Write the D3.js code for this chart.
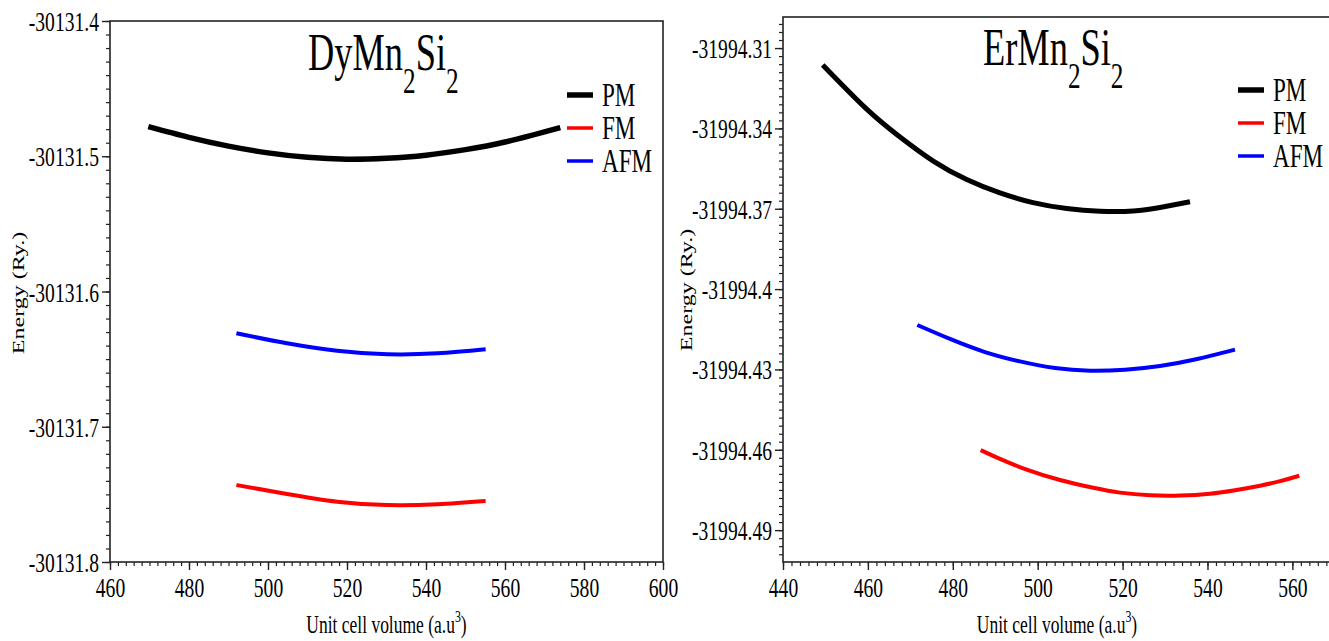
<!DOCTYPE html>
<html>
<head>
<meta charset="utf-8">
<script src="https://cdn.jsdelivr.net/npm/d3@7"></script>
<style>
  html, body { margin: 0; padding: 0; background: #fff; }
  svg { display: block; font-family: "Liberation Serif", "Times New Roman", serif; }
</style>
</head>
<body>
<svg id="chart" width="1329" height="641"></svg>
<script>
// ---- DyMn2Si2 : energy vs unit cell volume ----
const dyVolumePM  = [469.7, 480, 490, 500, 510, 520, 530, 540, 550, 560, 574];
const dyEnergyPM  = [-30131.4781, -30131.4860, -30131.4925, -30131.4975, -30131.5008, -30131.5022,
                     -30131.5015, -30131.4992, -30131.4951, -30131.4895, -30131.4788];
const dyVolumeAFM = [492.0, 504.8, 517.5, 530.2, 542.9, 555.1];
const dyEnergyAFM = [-30131.6309, -30131.6383, -30131.6438, -30131.6464, -30131.6457, -30131.6427];
const dyVolumeFM  = [492.0, 504.8, 517.5, 530.2, 542.9, 555.1];
const dyEnergyFM  = [-30131.7431, -30131.7497, -30131.7554, -30131.7579, -30131.7573, -30131.7549];

const dyVolumeTicks = [460, 480, 500, 520, 540, 560, 580, 600];
const dyVolumeTickLabels = ["460", "480", "500", "520", "540", "560", "580", "600"];
const dyEnergyTicks = [-30131.4, -30131.5, -30131.6, -30131.7, -30131.8];
const dyEnergyTickLabels = ["-30131.4", "-30131.5", "-30131.6", "-30131.7", "-30131.8"];

// ---- ErMn2Si2 : energy vs unit cell volume ----
const erVolumePM  = [449.35, 459.72, 467.56, 475.41, 483.28, 491.12, 498.90, 506.83, 514.68, 522.52, 528.81, 535.88];
const erEnergyPM  = [-31994.3163, -31994.3328, -31994.3432, -31994.3522, -31994.3591, -31994.3641,
                     -31994.3677, -31994.3699, -31994.3709, -31994.3708, -31994.3695, -31994.3674];
const erVolumeAFM = [471.64, 479.34, 487.59, 495.83, 504.08, 512.32, 520.57, 528.81, 537.06, 546.48];
const erEnergyAFM = [-31994.4134, -31994.4186, -31994.4235, -31994.4270, -31994.4295, -31994.4305,
                     -31994.4301, -31994.4287, -31994.4263, -31994.4226];
const erVolumeFM  = [486.58, 491.12, 497.41, 505.26, 513.10, 519.39, 526.46, 533.53, 540.60, 546.49,
                     552.38, 557.09, 561.63];
const erEnergyFM  = [-31994.4601, -31994.4634, -31994.4674, -31994.4713, -31994.4742, -31994.4760,
                     -31994.4770, -31994.4771, -31994.4764, -31994.4751, -31994.4734, -31994.4717, -31994.4697];

const erVolumeTicks = [440, 460, 480, 500, 520, 540, 560];
const erVolumeTickLabels = ["440", "460", "480", "500", "520", "540", "560"];
const erEnergyTicks = [-31994.31, -31994.34, -31994.37, -31994.40, -31994.43, -31994.46, -31994.49];
const erEnergyTickLabels = ["-31994.31", "-31994.34", "-31994.37", "-31994.4", "-31994.43", "-31994.46", "-31994.49"];

const seriesNames  = ["PM", "FM", "AFM"];
const seriesColors = ["#000000", "#ff0000", "#0000ff"];

// ---- drawing ----
const svg = d3.select("#chart");
const SX = 0.7;          // narrow serif lettering
const SERIF = "'Liberation Serif', 'Times New Roman', serif";
const FONT_TICK = 28;

function zip(a, b) { return a.map((v, i) => [v, b[i]]); }

function squeezedText(parent, x, y, str, size, anchor) {
  const g = parent.append("g").attr("transform", `translate(${x},${y})`);
  const t = g.append("text")
    .attr("transform", `scale(${SX},1)`)
    .attr("font-size", size)
    .attr("font-family", SERIF)
    .attr("text-anchor", anchor || "start")
    .attr("fill", "#000");
  if (str !== null) t.text(str);
  return t;
}

function drawPanel(p) {
  const g = svg.append("g");
  const x = d3.scaleLinear().domain(p.xDomain).range([p.left, p.right]);
  const y = d3.scaleLinear().domain(p.yDomain).range([p.bottom, p.top]);

  // plot frame
  g.append("rect")
    .attr("x", p.left).attr("y", p.top)
    .attr("width", p.right - p.left).attr("height", p.bottom - p.top)
    .attr("fill", "none").attr("stroke", "#222").attr("stroke-width", 1.6);

  // minor ticks
  g.append("g").attr("transform", `translate(0,${p.bottom})`)
    .call(d3.axisBottom(x).tickValues(p.xMinor).tickSize(4).tickFormat(""))
    .call(a => a.select(".domain").remove())
    .call(a => a.selectAll("line").attr("stroke", "#222").attr("stroke-width", 1.2));
  g.append("g").attr("transform", `translate(${p.left},0)`)
    .call(d3.axisLeft(y).tickValues(p.yMinor).tickSize(4).tickFormat(""))
    .call(a => a.select(".domain").remove())
    .call(a => a.selectAll("line").attr("stroke", "#222").attr("stroke-width", 1.2));

  // major ticks + labels
  const xAxis = g.append("g").attr("transform", `translate(0,${p.bottom})`)
    .call(d3.axisBottom(x).tickValues(p.xTicks).tickSize(8).tickPadding(7)
      .tickFormat((d, i) => p.xTickLabels[i]))
    .call(a => a.select(".domain").remove())
    .attr("font-family", SERIF);
  xAxis.selectAll("line").attr("stroke", "#222").attr("stroke-width", 1.4);
  xAxis.selectAll("text")
    .attr("font-size", FONT_TICK).attr("font-family", SERIF)
    .attr("fill", "#000").attr("transform", `scale(${SX},1)`);

  const yAxis = g.append("g").attr("transform", `translate(${p.left},0)`)
    .call(d3.axisLeft(y).tickValues(p.yTicks).tickSize(8).tickPadding(3)
      .tickFormat((d, i) => p.yTickLabels[i]))
    .call(a => a.select(".domain").remove())
    .attr("font-family", SERIF);
  yAxis.selectAll("line").attr("stroke", "#222").attr("stroke-width", 1.4);
  yAxis.selectAll("text")
    .attr("font-size", FONT_TICK).attr("font-family", SERIF)
    .attr("fill", "#000").attr("x", -11 / SX).attr("dy", "0.34em")
    .attr("transform", `scale(${SX},1)`);

  // curves
  const line = d3.line().x(d => x(d[0])).y(d => y(d[1])).curve(d3.curveNatural);
  p.series.forEach(s => {
    g.append("path")
      .datum(zip(s.v, s.e))
      .attr("d", line)
      .attr("fill", "none")
      .attr("stroke", s.color)
      .attr("stroke-width", s.width)
      .attr("stroke-linecap", "butt");
  });

  // compound title
  const title = squeezedText(g, p.titleX, p.titleY, null, 52, "start");
  title.append("tspan").text(p.title[0]);
  title.append("tspan").attr("font-size", 36).attr("dy", 23).text("2");
  title.append("tspan").attr("dy", -23).text(p.title[1]);
  title.append("tspan").attr("font-size", 36).attr("dy", 23).text("2");

  // legend
  seriesNames.forEach((name, i) => {
    const ly = p.legendY + i * 33;
    g.append("line")
      .attr("x1", p.legendX).attr("x2", p.legendX + 26)
      .attr("y1", ly).attr("y2", ly)
      .attr("stroke", seriesColors[i])
      .attr("stroke-width", i === 0 ? 5.5 : 3.5);
    squeezedText(g, p.legendX + 35, ly + 11, name, 33, "start");
  });

  // axis titles
  const xt = squeezedText(g, (p.left + p.right) / 2, 633, null, 25, "middle");
  xt.append("tspan").text("Unit cell volume (a.u");
  xt.append("tspan").attr("font-size", 17).attr("dy", -11).text("3");
  xt.append("tspan").attr("dy", 11).text(")");

  const yt = g.append("g").attr("transform", `translate(${p.yTitleX},${p.yTitleY}) rotate(-90)`);
  yt.append("text")
    .attr("transform", `scale(1,${SX})`)
    .attr("y", 8)
    .attr("font-size", 24)
    .attr("font-family", SERIF)
    .attr("text-anchor", "middle")
    .attr("fill", "#000")
    .text("Energy (Ry.)");
}

drawPanel({
  left: 110, right: 663, top: 21, bottom: 562,
  xDomain: [460, 600], yDomain: [-30131.8, -30131.4],
  xTicks: dyVolumeTicks, xTickLabels: dyVolumeTickLabels,
  yTicks: dyEnergyTicks, yTickLabels: dyEnergyTickLabels,
  xMinor: d3.range(0, 71).map(i => 460 + 2 * i),
  yMinor: d3.range(0, 41).map(i => -30131.8 + 0.01 * i),
  series: [
    { v: dyVolumePM,  e: dyEnergyPM,  color: seriesColors[0], width: 5.5 },
    { v: dyVolumeFM,  e: dyEnergyFM,  color: seriesColors[1], width: 4 },
    { v: dyVolumeAFM, e: dyEnergyAFM, color: seriesColors[2], width: 4 }
  ],
  title: ["DyMn", "Si"], titleX: 308, titleY: 70,
  legendX: 567, legendY: 95,
  yTitleX: 18, yTitleY: 293
});

drawPanel({
  left: 783, right: 1331, top: 17, bottom: 562,
  xDomain: [440, 569.1], yDomain: [-31994.5019, -31994.2984],
  xTicks: erVolumeTicks, xTickLabels: erVolumeTickLabels,
  yTicks: erEnergyTicks, yTickLabels: erEnergyTickLabels,
  xMinor: d3.range(0, 65).map(i => 440 + 2 * i),
  yMinor: d3.range(-3, 64).map(i => -31994.49 + 0.003 * i),
  series: [
    { v: erVolumePM,  e: erEnergyPM,  color: seriesColors[0], width: 5 },
    { v: erVolumeFM,  e: erEnergyFM,  color: seriesColors[1], width: 4 },
    { v: erVolumeAFM, e: erEnergyAFM, color: seriesColors[2], width: 4 }
  ],
  title: ["ErMn", "Si"], titleX: 983, titleY: 65,
  legendX: 1238, legendY: 90,
  yTitleX: 686, yTitleY: 290
});
</script>
</body>
</html>
